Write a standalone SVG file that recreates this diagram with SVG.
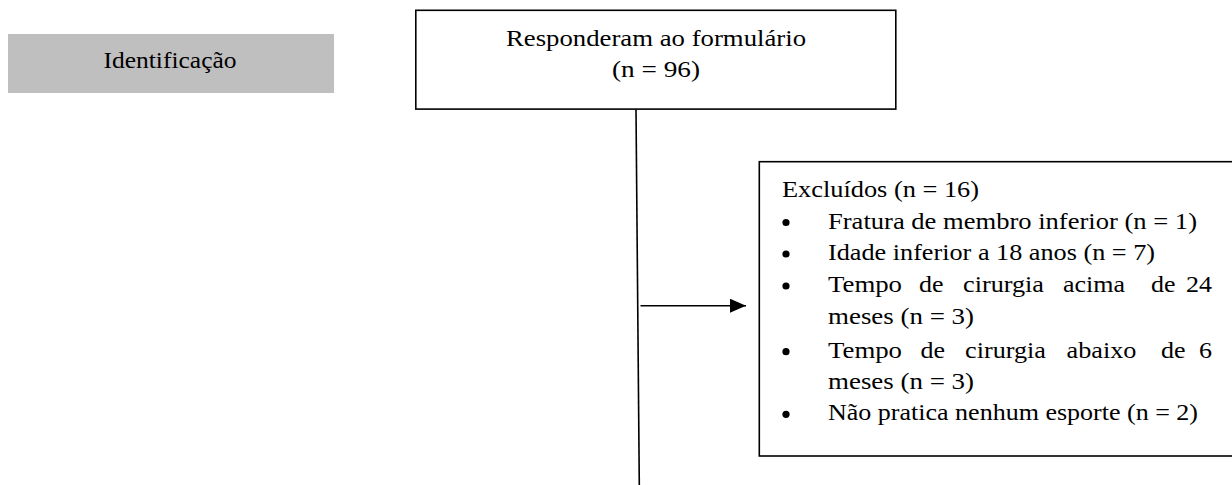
<svg xmlns="http://www.w3.org/2000/svg" width="1232" height="485" viewBox="0 0 1232 485">
<style>
text{font-family:"Liberation Serif","Times New Roman",serif;font-size:22.5px;fill:#000}
.box{fill:#fff;stroke:#000;stroke-width:1.6}
.conn{stroke:#000;stroke-width:1.6;fill:none}
</style>
<defs>
<marker id="arr" markerUnits="userSpaceOnUse" markerWidth="18" markerHeight="16" refX="16" refY="7" orient="auto">
<path d="M0,0 L16,7 L0,14 Z" fill="#000"/>
</marker>
</defs>
<rect width="1232" height="485" fill="#fff"/>
<g id="identificacao">
<rect x="8" y="34" width="326" height="59" fill="#bfbfbf"/>
<text x="170" y="68" text-anchor="middle" textLength="133" lengthAdjust="spacingAndGlyphs">Identificação</text>
</g>
<g id="responderam">
<rect class="box" x="415.8" y="10.3" width="480" height="98.8"/>
<text x="656" y="46" text-anchor="middle" textLength="300" lengthAdjust="spacingAndGlyphs">Responderam ao formulário</text>
<text x="656" y="77" text-anchor="middle" textLength="88" lengthAdjust="spacingAndGlyphs">(n = 96)</text>
</g>
<g id="excluidos">
<rect class="box" x="759.3" y="161.7" width="490" height="294.3"/>
<text x="782" y="197" textLength="197" lengthAdjust="spacingAndGlyphs">Excluídos (n = 16)</text>
<circle cx="786" cy="222.5" r="3.6"/>
<text x="828" y="228.5" textLength="369" lengthAdjust="spacingAndGlyphs">Fratura de membro inferior (n = 1)</text>
<circle cx="786" cy="254" r="3.6"/>
<text x="828" y="260" textLength="327" lengthAdjust="spacingAndGlyphs">Idade inferior a 18 anos (n = 7)</text>
<circle cx="786" cy="286" r="3.6"/>
<text x="828" y="292" textLength="74" lengthAdjust="spacingAndGlyphs">Tempo</text>
<text x="919" y="292" textLength="24.5" lengthAdjust="spacingAndGlyphs">de</text>
<text x="963" y="292" textLength="81" lengthAdjust="spacingAndGlyphs">cirurgia</text>
<text x="1063" y="292" textLength="62" lengthAdjust="spacingAndGlyphs">acima</text>
<text x="1151" y="292" textLength="24.5" lengthAdjust="spacingAndGlyphs">de</text>
<text x="1212" y="292" text-anchor="end" textLength="26" lengthAdjust="spacingAndGlyphs">24</text>
<text x="828" y="324" textLength="146" lengthAdjust="spacingAndGlyphs">meses (n = 3)</text>
<circle cx="786" cy="351.7" r="3.6"/>
<text x="828" y="357.5" textLength="74" lengthAdjust="spacingAndGlyphs">Tempo</text>
<text x="920.5" y="357.5" textLength="24.5" lengthAdjust="spacingAndGlyphs">de</text>
<text x="965" y="357.5" textLength="81" lengthAdjust="spacingAndGlyphs">cirurgia</text>
<text x="1066.5" y="357.5" textLength="70" lengthAdjust="spacingAndGlyphs">abaixo</text>
<text x="1161" y="357.5" textLength="24.5" lengthAdjust="spacingAndGlyphs">de</text>
<text x="1212" y="357.5" text-anchor="end" textLength="13" lengthAdjust="spacingAndGlyphs">6</text>
<text x="828" y="389" textLength="146" lengthAdjust="spacingAndGlyphs">meses (n = 3)</text>
<circle cx="786" cy="414.3" r="3.6"/>
<text x="828" y="420.3" textLength="370" lengthAdjust="spacingAndGlyphs">Não pratica nenhum esporte (n = 2)</text>
</g>
<g id="connectors">
<line class="conn" x1="636" y1="109.5" x2="639.3" y2="485"/>
<line class="conn" x1="640.5" y1="305.7" x2="746" y2="305.7" marker-end="url(#arr)"/>
</g>
</svg>
